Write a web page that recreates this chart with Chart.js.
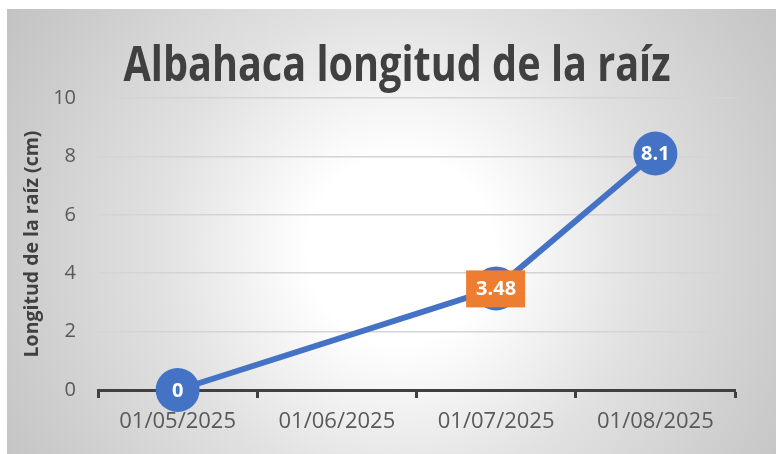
<!DOCTYPE html>
<html>
<head>
<meta charset="utf-8">
<script src="https://cdn.jsdelivr.net/npm/chart.js@4.4.1/dist/chart.umd.min.js"></script>
<style>
  html, body { margin: 0; padding: 0; background: #ffffff; }
  canvas { display: block; }
</style>
</head>
<body>
<canvas id="grafico" width="776" height="454"></canvas>
<script>
// datos
const titulo = 'Albahaca longitud de la raíz';
const fechas = ['01/05/2025', '01/06/2025', '01/07/2025', '01/08/2025'];
const longitudRaiz = [0, null, 3.48, 8.1];
const etiquetasY = [0, 2, 4, 6, 8, 10];

const azul = '#4472C4';
const naranja = '#ED7D31';

// fondo con degradado radial (como el de Excel)
const fondo = {
  id: 'fondo',
  beforeDraw(chart) {
    const ctx = chart.ctx;
    const g = ctx.createRadialGradient(400, 250, 0, 400, 250, 465);
    g.addColorStop(0, '#ffffff');
    g.addColorStop(0.2, '#ffffff');
    g.addColorStop(0.52, '#e1e1e1');
    g.addColorStop(0.85, '#cbcbcb');
    g.addColorStop(1, '#c2c2c2');
    ctx.save();
    ctx.fillStyle = '#ffffff';
    ctx.fillRect(0, 0, chart.width, chart.height);
    ctx.fillStyle = g;
    ctx.fillRect(7, 9, chart.width - 7, chart.height - 9);
    ctx.restore();
  }
};

// título, algo estrecho como Calibri
const tituloPlugin = {
  id: 'tituloPlugin',
  afterDraw(chart) {
    const ctx = chart.ctx;
    ctx.save();
    ctx.font = 'bold 49px "Open Sans"';
    ctx.fillStyle = '#404040';
    ctx.textAlign = 'center';
    ctx.textBaseline = 'alphabetic';
    const w = ctx.measureText(titulo).width;
    const sx = 547 / w;
    ctx.translate(397, 81);
    ctx.scale(sx, 1);
    ctx.fillText(titulo, 0, 0);
    ctx.restore();
  }
};

// etiquetas de datos dentro de los círculos
const etiquetas = {
  id: 'etiquetas',
  afterDatasetsDraw(chart) {
    const ctx = chart.ctx;
    const meta = chart.getDatasetMeta(0);
    ctx.save();
    ctx.font = 'bold 20px "Open Sans"';
    ctx.textAlign = 'center';
    ctx.textBaseline = 'middle';
    meta.data.forEach((p, i) => {
      const v = longitudRaiz[i];
      if (v === null) return;
      if (i === 2) {
        ctx.fillStyle = naranja;
        ctx.fillRect(p.x - 30, p.y - 18, 59, 37);
      }
      ctx.fillStyle = '#ffffff';
      ctx.fillText(String(v), p.x, p.y + 1);
    });
    ctx.restore();
  }
};

const ctx = document.getElementById('grafico').getContext('2d');

new Chart(ctx, {
  type: 'line',
  data: {
    labels: fechas,
    datasets: [{
      data: longitudRaiz,
      borderColor: azul,
      borderWidth: 6,
      pointRadius: 22,
      pointHoverRadius: 22,
      pointBackgroundColor: azul,
      pointBorderWidth: 0,
      spanGaps: true,
      tension: 0,
      clip: false
    }]
  },
  options: {
    responsive: false,
    animation: false,
    layout: { padding: { left: 0, top: 98, right: 41, bottom: 0 } },
    plugins: {
      legend: { display: false },
      tooltip: { enabled: false },
      title: { display: false }
    },
    scales: {
      x: {
        offset: true,
        afterFit(scale) { scale.height = 64; },
        border: { display: true, color: '#404040', width: 3 },
        grid: {
          offset: true,
          drawOnChartArea: false,
          drawTicks: true,
          tickLength: 8,
          tickColor: '#404040',
          tickWidth: 3
        },
        ticks: {
          color: '#595959',
          font: { family: '"Open Sans"', size: 22 },
          padding: 11,
          maxRotation: 0
        }
      },
      y: {
        min: 0,
        max: 10,
        afterFit(scale) { scale.width = 98; },
        afterBuildTicks(scale) { scale.ticks = etiquetasY.map(v => ({ value: v })); },
        border: { display: false },
        grid: { color: '#d4d4d4', lineWidth: 1.5, drawTicks: false },
        ticks: {
          color: '#595959',
          font: { family: '"Open Sans"', size: 20 },
          padding: 22
        },
        title: {
          display: true,
          text: 'Longitud de la raíz (cm)',
          color: '#404040',
          font: { family: '"Open Sans"', size: 19.5, weight: 'bold' },
          padding: { top: 21, bottom: 0 }
        }
      }
    }
  },
  plugins: [fondo, etiquetas, tituloPlugin]
});
</script>
</body>
</html>
